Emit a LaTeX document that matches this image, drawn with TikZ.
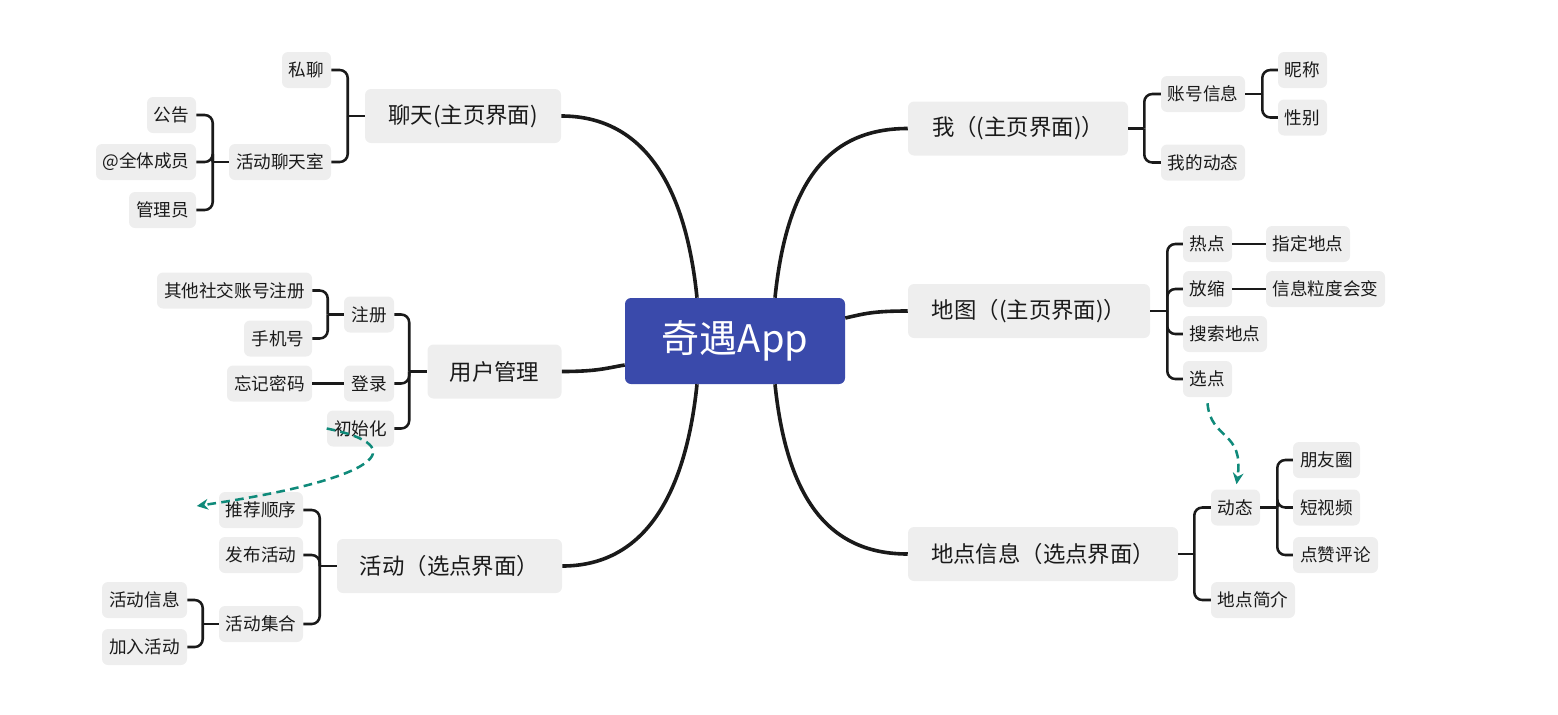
\documentclass[tikz,border=0pt]{standalone}
\usepackage{fontspec}
\setmainfont{Noto Sans CJK SC}
\usetikzlibrary{calc,arrows.meta}
\definecolor{nodegray}{HTML}{EEEEEE}
\definecolor{appblue}{HTML}{3A4AAB}
\definecolor{tealline}{HTML}{0F8A7A}
\definecolor{ink}{HTML}{1A1A1A}
\tikzset{
  box/.style={fill=nodegray, rounded corners=4.5pt, inner sep=0pt, text=ink, anchor=center},
  leaf/.style={box, minimum height=27pt, font=\fontsize{13.2pt}{15pt}\selectfont},
  branch/.style={box, minimum height=40.5pt, font=\fontsize{16.8pt}{19pt}\selectfont},
  wd/.style={minimum width=#1*0.75pt},
  root/.style={fill=appblue, rounded corners=4.5pt, inner sep=0pt, text=white,
     minimum width=165pt, minimum height=64.5pt, font=\fontsize{28.5pt}{31pt}\selectfont},
  trunk/.style={draw=ink, line width=2.7pt},
  br/.style={draw=ink, line width=1.9pt, rounded corners=6pt},
  link/.style={draw=tealline, line width=1.9pt, dash pattern=on 6.5pt off 4pt,
     -{Stealth[length=8.5pt,width=8pt]}}
}
\begin{document}
\begin{tikzpicture}[x=0.75pt,y=-0.75pt]
\useasboundingbox (0,0) rectangle (1558,714);

% root
\node[root] (app) at (735,341) {奇遇App};

% branches
\node[branch,wd=196] (liaotian) at (463,116) {聊天(主页界面)};
\node[branch,wd=134] (yonghu) at (494.5,371.5) {用户管理};
\node[branch,wd=225] (huodong) at (449.5,566) {活动（选点界面）};
\node[branch,wd=220] (wo) at (1018,128.5) {我（(主页界面)）};
\node[branch,wd=242] (ditu) at (1029,311) {地图（(主页界面)）};
\node[branch,wd=270] (didian) at (1043,554) {地点信息（选点界面）};

% leaves: chat
\node[leaf,wd=49] (siliao) at (306.5,70) {私聊};
\node[leaf,wd=102] (ltroom) at (280,162) {活动聊天室};
\node[leaf,wd=49] (gonggao) at (171.5,115) {公告};
\node[leaf,wd=100] (quanti) at (146,162) {@全体成员};
\node[leaf,wd=67] (guanli) at (162.5,210) {管理员};
% leaves: user
\node[leaf,wd=50] (zhuce) at (369,314.5) {注册};
\node[leaf,wd=50] (denglu) at (369,383.5) {登录};
\node[leaf,wd=67] (chushi) at (360.5,428.5) {初始化};
\node[leaf,wd=155] (qita) at (234.5,290.5) {其他社交账号注册};
\node[leaf,wd=68] (shouji) at (278,338.5) {手机号};
\node[leaf,wd=85] (wangji) at (269.5,383.5) {忘记密码};
% leaves: activity
\node[leaf,wd=84] (tuijian) at (261,510) {推荐顺序};
\node[leaf,wd=84] (fabu) at (261,555) {发布活动};
\node[leaf,wd=84] (jihe) at (261,624) {活动集合};
\node[leaf,wd=85] (hdinfo) at (144.5,600) {活动信息};
\node[leaf,wd=85] (jiaru) at (144.5,647) {加入活动};
% leaves: me
\node[leaf,wd=84] (zhanghao) at (1203,94) {账号信息};
\node[leaf,wd=84] (wodt) at (1203,162.5) {我的动态};
\node[leaf,wd=49] (nicheng) at (1302.5,70) {昵称};
\node[leaf,wd=49] (xingbie) at (1302.5,117.5) {性别};
% leaves: map
\node[leaf,wd=49] (redian) at (1207.5,244) {热点};
\node[leaf,wd=49] (fangsuo) at (1207.5,289) {放缩};
\node[leaf,wd=84] (sousuo) at (1225,334) {搜索地点};
\node[leaf,wd=49] (xuandian) at (1207.5,379) {选点};
\node[leaf,wd=84] (zhiding) at (1308,244) {指定地点};
\node[leaf,wd=119] (lidu) at (1325.5,289) {信息粒度会变};
% leaves: place
\node[leaf,wd=49] (dongtai) at (1235.5,507.5) {动态};
\node[leaf,wd=84] (jianjie) at (1253,600) {地点简介};
\node[leaf,wd=67] (pengyou) at (1326.5,460) {朋友圈};
\node[leaf,wd=67] (duanshi) at (1326.5,507.5) {短视频};
\node[leaf,wd=85] (dianzan) at (1335.5,555) {点赞评论};

% trunk curves
\draw[trunk] ($(app.north)+(-38,0)$) .. controls +(-12,-118) and +(79,0) .. (liaotian.east);
\draw[trunk] ($(app.north)+(40,0)$) .. controls +(12,-118) and +(-78,0) .. (wo.west);
\draw[trunk] ($(app.south)+(-38,0)$) .. controls +(-12,116) and +(79,0) .. (huodong.east);
\draw[trunk] ($(app.south)+(40,0)$) .. controls +(12,116) and +(-78,0) .. (didian.west);
\draw[trunk] ($(app.west)+(0,24)$) .. controls +(-18,3) and +(36,0) .. (yonghu.east);
\draw[trunk] ($(app.east)+(0,-23)$) .. controls +(18,-4) and +(-36,0) .. (ditu.west);

% junctions
\coordinate (jLT) at ($(liaotian.west)+(-17,0)$);
\coordinate (jRM) at ($(ltroom.west)+(-16,0)$);
\coordinate (jYH) at ($(yonghu.west)+(-18,0)$);
\coordinate (jZC) at ($(zhuce.west)+(-16,0)$);
\coordinate (jHD) at ($(huodong.west)+(-17,0)$);
\coordinate (jJH) at ($(jihe.west)+(-16,0)$);
\coordinate (jWO) at ($(wo.east)+(16,0)$);
\coordinate (jZH) at ($(zhanghao.east)+(17,0)$);
\coordinate (jDT) at ($(ditu.east)+(17,0)$);
\coordinate (jDD) at ($(didian.east)+(16,0)$);
\coordinate (jDY) at ($(dongtai.east)+(17,0)$);

% brackets
\draw[br] (liaotian.west) -- (jLT);
\draw[br] (jLT) |- (siliao.east);
\draw[br] (jLT) |- (ltroom.east);
\draw[br] (ltroom.west) -- (jRM);
\draw[br] (jRM) |- (gonggao.east);
\draw[br] (jRM) |- (quanti.east);
\draw[br] (jRM) |- (guanli.east);

\draw[br] (yonghu.west) -- (jYH);
\draw[br] (jYH) |- (zhuce.east);
\draw[br] (jYH) |- (denglu.east);
\draw[br] (jYH) |- (chushi.east);
\draw[br] (zhuce.west) -- (jZC);
\draw[br] (jZC) |- (qita.east);
\draw[br] (jZC) |- (shouji.east);
\draw[br] (denglu.west) -- (wangji.east);

\draw[br] (huodong.west) -- (jHD);
\draw[br] (jHD) |- (tuijian.east);
\draw[br] (jHD) |- (fabu.east);
\draw[br] (jHD) |- (jihe.east);
\draw[br] (jihe.west) -- (jJH);
\draw[br] (jJH) |- (hdinfo.east);
\draw[br] (jJH) |- (jiaru.east);

\draw[br] (wo.east) -- (jWO);
\draw[br] (jWO) |- (zhanghao.west);
\draw[br] (jWO) |- (wodt.west);
\draw[br] (zhanghao.east) -- (jZH);
\draw[br] (jZH) |- (nicheng.west);
\draw[br] (jZH) |- (xingbie.west);

\draw[br] (ditu.east) -- (jDT);
\draw[br] (jDT) |- (redian.west);
\draw[br] (jDT) |- (fangsuo.west);
\draw[br] (jDT) |- (sousuo.west);
\draw[br] (jDT) |- (xuandian.west);
\draw[br] (redian.east) -- (zhiding.west);
\draw[br] (fangsuo.east) -- (lidu.west);

\draw[br] (didian.east) -- (jDD);
\draw[br] (jDD) |- (dongtai.west);
\draw[br] (jDD) |- (jianjie.west);
\draw[br] (dongtai.east) -- (jDY);
\draw[br] (jDY) |- (pengyou.west);
\draw[br] (jDY) |- (duanshi.west);
\draw[br] (jDY) |- (dianzan.west);

% dashed links
\draw[link] ($(xuandian.south)+(0,6)$) .. controls +(3,37) and +(8,-54) .. ($(dongtai.north)+(1,-5)$);
\draw[link] (chushi.west) .. controls +(88,18) and +(183,-27) .. ($(tuijian.west)+(-22,-4)$);
\end{tikzpicture}
\end{document}
